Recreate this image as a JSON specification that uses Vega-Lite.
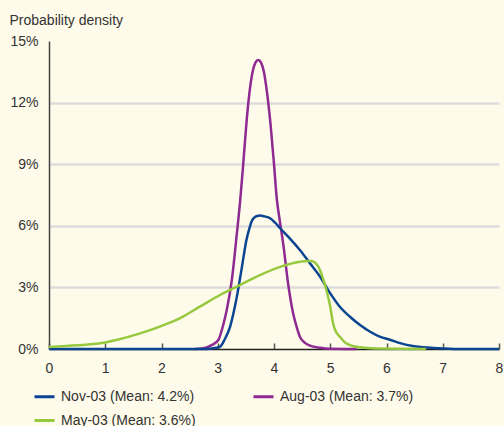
{
  "$schema": "https://vega.github.io/schema/vega-lite/v6.json",
  "width": 450,
  "height": 308,
  "autosize": "none",
  "padding": {"left": 49, "top": 41, "right": 5, "bottom": 77},
  "background": "#fefbea",
  "config": {
    "view": {"stroke": null},
    "font": "Liberation Sans",
    "axis": {"labelFont": "Liberation Sans", "labelFontSize": 14, "labelColor": "#333333", "titleFont": "Liberation Sans"},
    "legend": {"labelFont": "Liberation Sans", "labelFontSize": 14, "labelColor": "#333333"}
  },
  "datasets": {
    "nov": [
      {"x": 0, "y": 0}, {"x": 2.7, "y": 0}, {"x": 2.9, "y": 0.03}, {"x": 3.04, "y": 0.11}, {"x": 3.12, "y": 0.45},
      {"x": 3.22, "y": 1.09}, {"x": 3.28, "y": 1.75}, {"x": 3.34, "y": 2.55}, {"x": 3.43, "y": 4.0}, {"x": 3.51, "y": 5.31},
      {"x": 3.56, "y": 5.85}, {"x": 3.6, "y": 6.2}, {"x": 3.65, "y": 6.4}, {"x": 3.7, "y": 6.48}, {"x": 3.75, "y": 6.5},
      {"x": 3.83, "y": 6.46}, {"x": 3.93, "y": 6.37}, {"x": 4.02, "y": 6.15}, {"x": 4.11, "y": 5.88}, {"x": 4.28, "y": 5.39},
      {"x": 4.46, "y": 4.82}, {"x": 4.64, "y": 4.17}, {"x": 4.82, "y": 3.52}, {"x": 5.0, "y": 2.71}, {"x": 5.17, "y": 2.06},
      {"x": 5.35, "y": 1.57}, {"x": 5.53, "y": 1.17}, {"x": 5.71, "y": 0.84}, {"x": 5.88, "y": 0.6}, {"x": 6.06, "y": 0.45},
      {"x": 6.36, "y": 0.2}, {"x": 6.65, "y": 0.08}, {"x": 6.95, "y": 0.04}, {"x": 7.2, "y": 0}, {"x": 8, "y": 0}
    ],
    "aug": [
      {"x": 2.6, "y": 0}, {"x": 2.8, "y": 0.08}, {"x": 2.9, "y": 0.2}, {"x": 3.01, "y": 0.44}, {"x": 3.1, "y": 1.2},
      {"x": 3.16, "y": 1.9}, {"x": 3.25, "y": 3.36}, {"x": 3.34, "y": 5.63}, {"x": 3.4, "y": 7.26}, {"x": 3.45, "y": 8.9},
      {"x": 3.51, "y": 11.0}, {"x": 3.56, "y": 12.4}, {"x": 3.62, "y": 13.5}, {"x": 3.67, "y": 13.95}, {"x": 3.72, "y": 14.08},
      {"x": 3.77, "y": 13.95}, {"x": 3.82, "y": 13.5}, {"x": 3.88, "y": 12.4}, {"x": 3.94, "y": 10.9}, {"x": 4.0, "y": 9.0},
      {"x": 4.05, "y": 7.3}, {"x": 4.1, "y": 6.3}, {"x": 4.17, "y": 5.0}, {"x": 4.25, "y": 3.2}, {"x": 4.34, "y": 1.74},
      {"x": 4.4, "y": 1.1}, {"x": 4.46, "y": 0.6}, {"x": 4.55, "y": 0.3}, {"x": 4.64, "y": 0.16}, {"x": 4.82, "y": 0.06},
      {"x": 5.0, "y": 0.01}, {"x": 5.47, "y": 0}
    ],
    "may": [
      {"x": 0, "y": 0.1}, {"x": 0.5, "y": 0.18}, {"x": 0.91, "y": 0.28}, {"x": 1.2, "y": 0.44}, {"x": 1.62, "y": 0.76},
      {"x": 1.97, "y": 1.09}, {"x": 2.33, "y": 1.5}, {"x": 2.68, "y": 2.06}, {"x": 3.04, "y": 2.63}, {"x": 3.4, "y": 3.12},
      {"x": 3.75, "y": 3.6}, {"x": 4.11, "y": 4.0}, {"x": 4.46, "y": 4.25}, {"x": 4.6, "y": 4.29}, {"x": 4.67, "y": 4.29},
      {"x": 4.74, "y": 4.18}, {"x": 4.79, "y": 4.0}, {"x": 4.88, "y": 3.36}, {"x": 4.94, "y": 2.79}, {"x": 5.0, "y": 2.06},
      {"x": 5.05, "y": 1.25}, {"x": 5.1, "y": 0.85}, {"x": 5.17, "y": 0.6}, {"x": 5.25, "y": 0.35}, {"x": 5.35, "y": 0.19},
      {"x": 5.53, "y": 0.08}, {"x": 5.8, "y": 0.02}, {"x": 6.7, "y": 0}
    ]
  },
  "encoding": {
    "x": {
      "field": "x", "type": "quantitative",
      "scale": {"domain": [0, 8], "nice": false, "zero": false},
      "axis": {"title": null, "values": [0,1,2,3,4,5,6,7,8], "grid": false, "domainColor": "#222222", "domainWidth": 1.5,
               "tickColor": "#555555", "tickSize": -6, "tickWidth": 1.5, "labelPadding": 18, "labelFlush": false}
    },
    "y": {
      "field": "y", "type": "quantitative",
      "scale": {"domain": [0, 15], "nice": false},
      "axis": {"title": "Probability density", "titleAngle": 0, "titleAlign": "left", "titleBaseline": "alphabetic",
               "titleX": -40, "titleY": -17, "titleFontSize": 14, "titleFontWeight": "normal", "titleColor": "#333333",
               "values": [0,3,6,9,12,15], "labelExpr": "datum.value + '%'", "ticks": false, "labelPadding": 11,
               "domainColor": "#444444", "domainWidth": 1.5,
               "grid": true, "gridColor": {"condition": {"test": "datum.value == 15 || datum.value == 0", "value": "transparent"}, "value": "#dddddd"}, "gridWidth": 2.5}
    },
    "color": {
      "field": "s", "type": "nominal",
      "scale": {"domain": ["Nov-03 (Mean: 4.2%)", "May-03 (Mean: 3.6%)", "Aug-03 (Mean: 3.7%)"], "range": ["#0b4592", "#96c93d", "#8e2a91"]},
      "legend": {"title": null, "orient": "none", "legendX": -16, "legendY": 344, "columns": 2, "columnPadding": 51, "rowPadding": 5,
                 "symbolType": "stroke", "symbolStrokeWidth": 3, "symbolSize": 400, "labelOffset": 5}
    }
  },
  "layer": [
    {"data": {"name": "aug"}, "transform": [{"calculate": "'Aug-03 (Mean: 3.7%)'", "as": "s"}], "mark": {"type": "line", "strokeWidth": 2.5, "interpolate": "monotone"}},
    {"data": {"name": "nov"}, "transform": [{"calculate": "'Nov-03 (Mean: 4.2%)'", "as": "s"}], "mark": {"type": "line", "strokeWidth": 2.5, "interpolate": "monotone"}},
    {"data": {"name": "may"}, "transform": [{"calculate": "'May-03 (Mean: 3.6%)'", "as": "s"}], "mark": {"type": "line", "strokeWidth": 2.5, "interpolate": "monotone"}}
  ]
}
